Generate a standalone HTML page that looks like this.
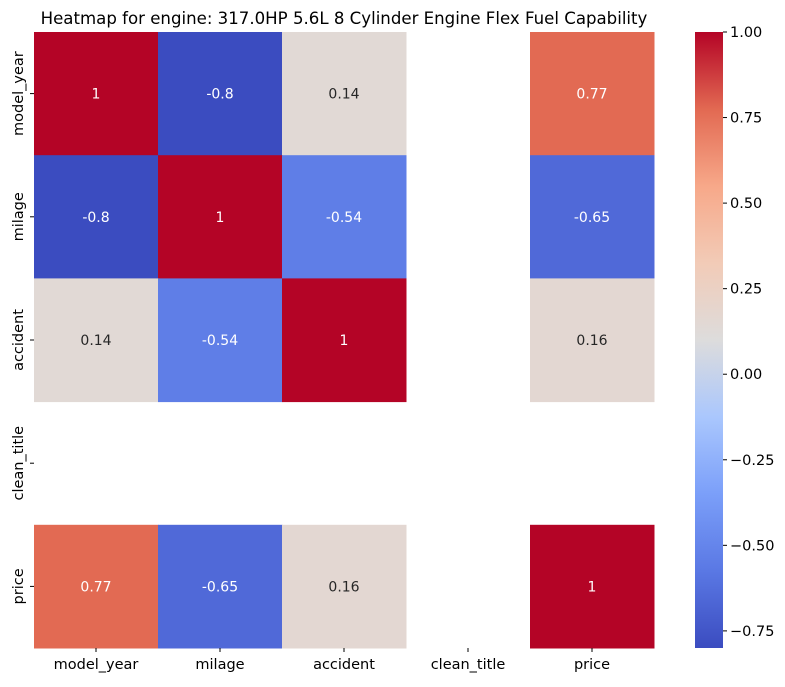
<!DOCTYPE html>
<html><head><meta charset="utf-8">
<style>
body{margin:0;background:#fff;font-family:"Liberation Sans","DejaVu Sans",sans-serif;}
svg text{font-family:"DejaVu Sans","Liberation Sans",sans-serif;}
</style></head>
<body>
<svg id="chart" width="785" height="682" xmlns="http://www.w3.org/2000/svg">
<defs>
<linearGradient id="cbgrad" x1="0" y1="1" x2="0" y2="0">
<stop offset="0" stop-color="#3b4cc0"/><stop offset="0.125" stop-color="#5a78e4"/><stop offset="0.25" stop-color="#7b9ff9"/><stop offset="0.375" stop-color="#aac7fd"/><stop offset="0.5" stop-color="#dddcdc"/><stop offset="0.625" stop-color="#f2cbb7"/><stop offset="0.75" stop-color="#f7a889"/><stop offset="0.875" stop-color="#e26952"/><stop offset="1" stop-color="#b40426"/>
</linearGradient>
</defs>
<text x="344" y="24" font-size="16.6" text-anchor="middle">Heatmap for engine: 317.0HP 5.6L 8 Cylinder Engine Flex Fuel Capability</text>
<g id="cells"></g>
<g id="axes"></g>
<rect x="695" y="32" width="28" height="616" fill="url(#cbgrad)"/>
<g id="cbticks"></g>
</svg>
<script>
const labels = ["model_year","milage","accident","clean_title","price"];
const values = [
 [1, -0.8, 0.14, null, 0.77],
 [-0.8, 1, -0.54, null, -0.65],
 [0.14, -0.54, 1, null, 0.16],
 [null, null, null, null, null],
 [0.77, -0.65, 0.16, null, 1]
];
const cbTicks = [1.00, 0.75, 0.50, 0.25, 0.00, -0.25, -0.50, -0.75];
const vmin = -0.8, vmax = 1;

const NS = "http://www.w3.org/2000/svg";
const X0 = 34, Y0 = 32, W = 620, H = 616;
const cw = W / labels.length, ch = H / labels.length;
const stops = [[0,[59,76,192]],[0.125,[90,120,228]],[0.25,[123,159,249]],[0.375,[170,199,253]],[0.5,[221,220,220]],[0.625,[242,203,183]],[0.75,[247,168,137]],[0.875,[226,105,82]],[1,[180,4,38]]];
function cmap(t){t=Math.max(0,Math.min(1,t));for(let i=1;i<stops.length;i++){if(t<=stops[i][0]){const a=stops[i-1],b=stops[i];const f=(t-a[0])/(b[0]-a[0]);return a[1].map((c,k)=>Math.round(c+(b[1][k]-c)*f));}}return stops[stops.length-1][1];}
function norm(v){return (v - vmin)/(vmax - vmin);}
function cbY(v){return Y0 + H - norm(v)*H;}
function mk(tag, attrs, parent){const e=document.createElementNS(NS,tag);for(const k in attrs)e.setAttribute(k,attrs[k]);parent.appendChild(e);return e;}

const cells = document.getElementById('cells');
values.forEach((row,i)=>row.forEach((v,j)=>{
  if(v===null) return;
  const c = cmap(norm(v));
  const r = mk('rect',{x:X0+j*cw,y:Y0+i*ch,width:cw+0.5,height:ch+0.5,fill:`rgb(${c})`},cells);
  
  
  const lum = 0.299*c[0]+0.587*c[1]+0.114*c[2];
  const t = mk('text',{x:X0+j*cw+cw/2,y:Y0+i*ch+ch/2+5,'font-size':14,'text-anchor':'middle',fill: lum<150?'#fff':'#262626'},cells);
  t.textContent = String(v);
  
  
}));

const axes = document.getElementById('axes');
labels.forEach((l,i)=>{
  const cx = X0+i*cw+cw/2;
  mk('line',{x1:cx,y1:Y0+H,x2:cx,y2:Y0+H+4,stroke:'#000'},axes);
  const t = mk('text',{x:cx,y:Y0+H+21,'font-size':14.5,'text-anchor':'middle'},axes);
  t.textContent = l;
  
  
  const cy = Y0+i*ch+ch/2;
  mk('line',{x1:X0-4,y1:cy,x2:X0,y2:cy,stroke:'#000'},axes);
  const ty = mk('text',{x:0,y:0,'font-size':14.5,'text-anchor':'middle',transform:`translate(23,${cy}) rotate(-90)`},axes);
  ty.textContent = l;
  
  
});

const cbt = document.getElementById('cbticks');
cbTicks.forEach(v=>{
  const y = cbY(v);
  mk('line',{x1:723,y1:y,x2:727,y2:y,stroke:'#000'},cbt);
  const t = mk('text',{x:730,y:y+5,'font-size':14.5},cbt);
  t.textContent = (v<0?'\u2212':'')+Math.abs(v).toFixed(2);
  
  
});
</script>
</body></html>
